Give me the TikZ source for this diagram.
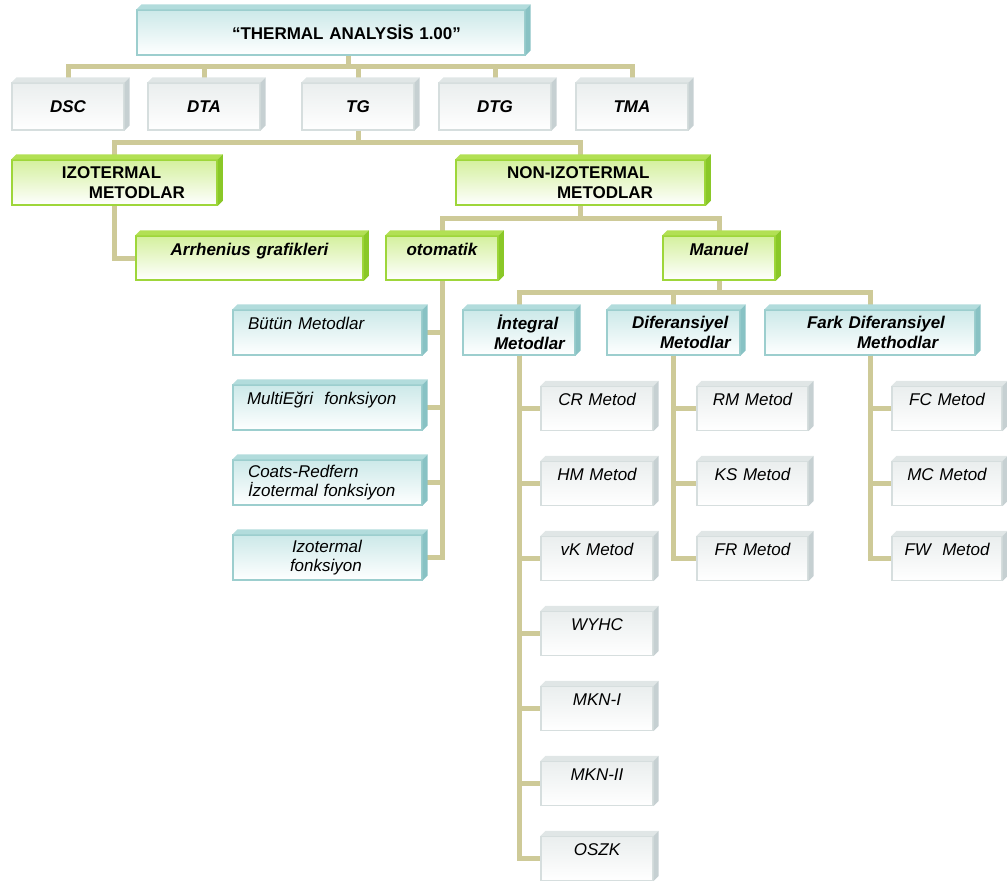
\documentclass[tikz,border=0pt]{standalone}
\usepackage{fontspec}
\setmainfont{Liberation Sans}
\definecolor{conncol}{RGB}{206,202,152}
\definecolor{greyline}{RGB}{214,222,222}
\definecolor{greytop}{RGB}{234,238,238}
\definecolor{greybev}{RGB}{224,230,230}
\definecolor{greyside}{RGB}{198,208,210}
\definecolor{cyanline}{RGB}{156,206,206}
\definecolor{cyantop}{RGB}{204,233,233}
\definecolor{cyanbev}{RGB}{178,220,220}
\definecolor{cyanside}{RGB}{136,194,196}
\definecolor{greenline}{RGB}{158,214,58}
\definecolor{greentop}{RGB}{212,240,158}
\definecolor{greenbev}{RGB}{178,224,84}
\definecolor{greenside}{RGB}{138,200,40}
\newcommand\labfont{\fontsize{17pt}{19.5pt}\selectfont}
\newcommand\boxbevel[3]{%
  \fill[#2] (#1.north west) -- ([shift={(5,-5)}]#1.north west) -- ([shift={(5,-5)}]#1.north east) -- (#1.north east) -- cycle;
  \fill[#3] (#1.north east) -- ([shift={(5,-5)}]#1.north east) -- ([shift={(5,-5)}]#1.south east) -- (#1.south east) -- cycle;}

\begin{document}
\begin{tikzpicture}[x=1pt,y=-1pt,
    greybox/.style={draw=greyline, line width=1.2pt, top color=greytop, bottom color=white, inner xsep=0pt, inner ysep=0pt, minimum height=44pt},
    cyanbox/.style={draw=cyanline, line width=1.2pt, top color=cyantop, bottom color=white, inner xsep=0pt, inner ysep=0pt, minimum height=45pt},
    greenbox/.style={draw=greenline, line width=1.5pt, top color=greentop, bottom color=white, inner xsep=0pt, inner ysep=0pt, minimum height=45pt},
    upper/.style={text height=12pt, text depth=18pt},
    boldup/.style={font=\labfont\bfseries},
    boldit/.style={font=\labfont\bfseries\itshape},
    plainit/.style={font=\labfont\itshape},
    conn/.style={draw=conncol, line width=5pt}]
  \useasboundingbox (0,0) rectangle (1007,883);

  \node[cyanbox, boldup, text width=388pt, align=left] (title) at (331,32.5) {\hspace*{95pt}“THERMAL ANALYSİS 1.00”};

  \node[greybox, boldit, minimum height=47pt, text width=112pt, align=center] (dsc) at (68,106.5) {DSC};
  \node[greybox, boldit, minimum height=47pt, text width=112pt, align=center] (dta) at (204,106.5) {DTA};
  \node[greybox, boldit, minimum height=47pt, text width=112pt, align=center] (tg) at (358,106.5) {TG};
  \node[greybox, boldit, minimum height=47pt, text width=112pt, align=center] (dtg) at (495,106.5) {DTG};
  \node[greybox, boldit, minimum height=47pt, text width=112pt, align=center] (tma) at (632,106.5) {TMA};

  \node[greenbox, boldup, text width=205pt, align=left] (izo) at (114.5,182.5) {\hspace*{50pt}IZOTERMAL\\\hspace*{77pt}METODLAR};
  \node[greenbox, boldup, text width=249pt, align=left] (noniz) at (580.5,182.5) {\hspace*{51pt}NON-IZOTERMAL\\\hspace*{101pt}METODLAR};

  \node[greenbox, boldit, upper, minimum height=44pt, text width=227pt, align=center] (arrh) at (249.5,258) {Arrhenius grafikleri};
  \node[greenbox, boldit, upper, minimum height=44pt, text width=112pt, align=center] (otomatik) at (442,258) {otomatik};
  \node[greenbox, boldit, upper, minimum height=44pt, text width=112pt, align=center] (manuel) at (719,258) {Manuel};

  \node[cyanbox, plainit, upper, text width=189pt, align=left] (butun) at (327.5,332.5) {\hspace*{15pt}Bütün Metodlar};
  \node[cyanbox, plainit, upper, text width=189pt, align=left] (multi) at (327.5,407.5) {\hspace*{14pt}MultiEğri\ \ fonksiyon};
  \node[cyanbox, plainit, text width=189pt, align=left] (coats) at (327.5,482.5) {\hspace*{15pt}Coats-Redfern\\\hspace*{15pt}İzotermal fonksiyon};
  \node[cyanbox, plainit, text width=189pt, align=left] (izofonk) at (327.5,557.5) {\hspace*{59pt}Izotermal\\\hspace*{57pt}fonksiyon};

  \node[cyanbox, boldit, text width=112pt, align=left] (integral) at (519,332.5) {\hspace*{34pt}İntegral\\\hspace*{31pt}Metodlar};
  \node[cyanbox, boldit, text width=133pt, align=left] (diferansiyel) at (673.5,332.5) {\hspace*{25pt}Diferansiyel\\\hspace*{53pt}Metodlar};
  \node[cyanbox, boldit, text width=210pt, align=left] (fark) at (870,332.5) {\hspace*{42pt}Fark Diferansiyel\\\hspace*{92pt}Methodlar};

  \node[greybox, plainit, upper, text width=112pt, align=center] (cr) at (597,408.5) {CR Metod};
  \node[greybox, plainit, upper, text width=112pt, align=center] (hm) at (597,483.5) {HM Metod};
  \node[greybox, plainit, upper, text width=112pt, align=center] (vk) at (597,558.5) {vK Metod};
  \node[greybox, plainit, upper, text width=112pt, align=center] (wyhc) at (597,633.5) {WYHC};
  \node[greybox, plainit, upper, text width=112pt, align=center] (mkn1) at (597,708.5) {MKN-I};
  \node[greybox, plainit, upper, text width=112pt, align=center] (mkn2) at (597,783.5) {MKN-II};
  \node[greybox, plainit, upper, text width=112pt, align=center] (oszk) at (597,858.5) {OSZK};

  \node[greybox, plainit, upper, text width=111pt, align=center] (rm) at (752.5,408.5) {RM Metod};
  \node[greybox, plainit, upper, text width=111pt, align=center] (ks) at (752.5,483.5) {KS Metod};
  \node[greybox, plainit, upper, text width=111pt, align=center] (fr) at (752.5,558.5) {FR Metod};

  \node[greybox, plainit, upper, text width=110pt, align=center] (fc) at (947,408.5) {FC Metod};
  \node[greybox, plainit, upper, text width=110pt, align=center] (mc) at (947,483.5) {MC Metod};
  \node[greybox, plainit, upper, text width=110pt, align=center] (fw) at (947,558.5) {FW\ \ Metod};

  \coordinate (bus1) at (348,67);
  \coordinate (bus2) at (358,142);
  \coordinate (bus3) at (580.5,218);
  \coordinate (bus4) at (719,292);

  \draw[conn] (bus1 |- title.south) -- (bus1);
  \foreach \n in {dsc,dta,tg,dtg,tma}
    \draw[conn] (bus1) -| (\n.north);
  \draw[conn] (tg.south) -- (bus2);
  \draw[conn] (bus2) -| (izo.north);
  \draw[conn] (bus2) -| (noniz.north);
  \draw[conn] (izo.south) |- (arrh.west);
  \draw[conn] (noniz.south) -- (bus3);
  \draw[conn] (bus3) -| (otomatik.north);
  \draw[conn] (bus3) -| (manuel.north);
  \foreach \n in {butun,multi,coats,izofonk}
    \draw[conn] (otomatik.south) |- (\n.east);
  \draw[conn] (manuel.south) -- (bus4);
  \foreach \n in {integral,diferansiyel,fark}
    \draw[conn] (bus4) -| (\n.north);
  \foreach \n in {cr,hm,vk,wyhc,mkn1,mkn2,oszk}
    \draw[conn] (integral.south) |- (\n.west);
  \foreach \n in {rm,ks,fr}
    \draw[conn] (diferansiyel.south) |- (\n.west);
  \foreach \n in {fc,mc,fw}
    \draw[conn] (fark.south) |- (\n.west);

  \foreach \n in {title,butun,multi,coats,izofonk,integral,diferansiyel,fark}
    {\boxbevel{\n}{cyanbev}{cyanside}}
  \foreach \n in {izo,noniz,arrh,otomatik,manuel}
    {\boxbevel{\n}{greenbev}{greenside}}
  \foreach \n in {dsc,dta,tg,dtg,tma,cr,hm,vk,wyhc,mkn1,mkn2,oszk,rm,ks,fr,fc,mc,fw}
    {\boxbevel{\n}{greybev}{greyside}}
\end{tikzpicture}
\end{document}
